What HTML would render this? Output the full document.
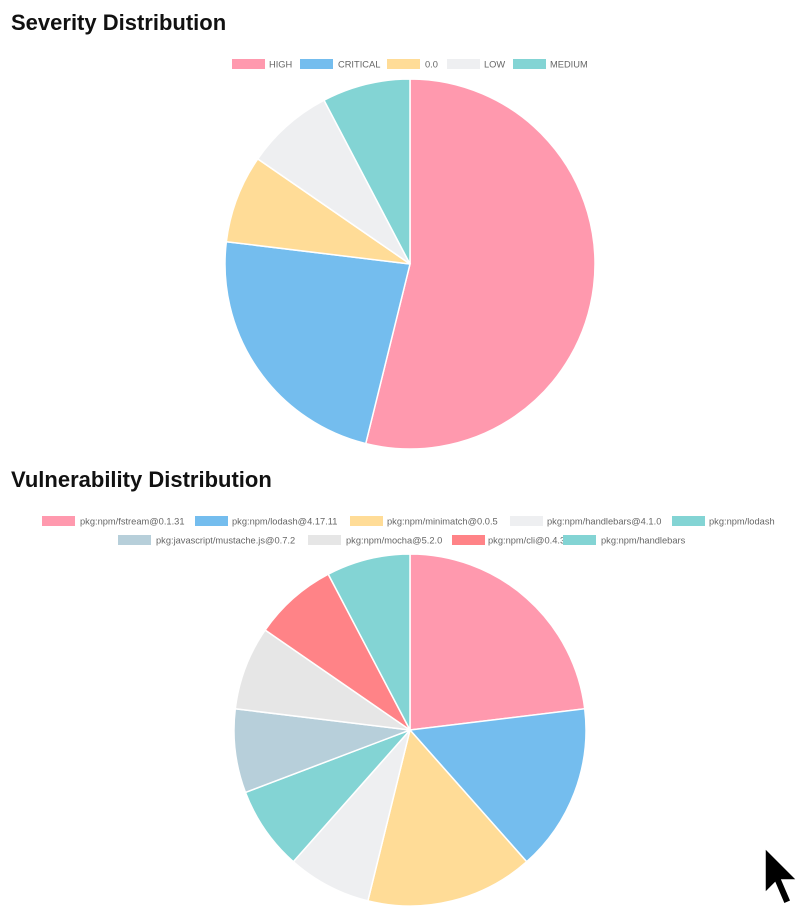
<!DOCTYPE html>
<html><head><meta charset="utf-8"><style>
body{margin:0;background:#fff;width:801px;height:914px;overflow:hidden;font-family:"Liberation Sans",Arial,sans-serif}
h2{position:absolute;left:11px;margin:0;font-size:22px;font-weight:bold;color:#111}
svg{position:absolute;left:0;top:0}
</style></head><body>
<h2 style="top:10px">Severity Distribution</h2>
<h2 style="top:467px">Vulnerability Distribution</h2>
<svg id="s" width="801" height="914"></svg>
<script>
const sevLabels=["HIGH","CRITICAL","0.0","LOW","MEDIUM"];
const sevValues=[7,3,1,1,1];
const sevColors=["#ff99ae","#74bdee","#ffdc97","#eeeff1","#83d4d4"];
const vulLabels=["pkg:npm/fstream@0.1.31","pkg:npm/lodash@4.17.11","pkg:npm/minimatch@0.0.5","pkg:npm/handlebars@4.1.0","pkg:npm/lodash","pkg:javascript/mustache.js@0.7.2","pkg:npm/mocha@5.2.0","pkg:npm/cli@0.4.3","pkg:npm/handlebars"];
const vulValues=[3,2,2,1,1,1,1,1,1];
const vulColors=["#ff99ae","#74bdee","#ffdc97","#eeeff1","#83d4d4","#b7cfda","#e6e6e6","#ff8387","#83d4d4"];
const svg=document.getElementById('s');const NS="http://www.w3.org/2000/svg";
function mk(t,a){const e=document.createElementNS(NS,t);for(const k in a)e.setAttribute(k,a[k]);svg.appendChild(e);return e;}
function pie(vals,cols,cx,cy,r,name){
  const tot=vals.reduce((a,b)=>a+b,0);let a0=0;
  vals.forEach((v,i)=>{const a1=a0+v/tot*2*Math.PI;
    const x0=cx+r*Math.sin(a0),y0=cy-r*Math.cos(a0),x1=cx+r*Math.sin(a1),y1=cy-r*Math.cos(a1);
    const p=mk('path',{d:`M${cx},${cy}L${x0},${y0}A${r},${r} 0 ${a1-a0>Math.PI?1:0} 1 ${x1},${y1}Z`,fill:cols[i],stroke:'#fff','stroke-width':1.5});
    
    
    a0=a1;});
}
function legend(labels,cols,rows,name){
  labels.forEach((l,i)=>{const [bx,tx,y]=rows[i];
    const b=mk('rect',{x:bx,y:y-5,width:33,height:10,fill:cols[i]});
    
    
    const t=mk('text',{x:tx,y:y+3.5,'font-size':9.3,fill:'#666'});t.textContent=l;
    
    
  });
}
pie(sevValues,sevColors,410,264,185,'severity');
legend(sevLabels,sevColors,[[232,269,64],[300,338,64],[387,425,64],[447,484,64],[513,550,64]],'severity');
pie(vulValues,vulColors,410,730,176,'vulnerability');
legend(vulLabels,vulColors,[[42,80,521],[195,232,521],[350,387,521],[510,547,521],[672,709,521],[118,156,540],[308,346,540],[452,488,540],[563,601,540]],'vulnerability');
const c=mk('path',{d:'M765,848 L765,893 L775,883 L784,904 L791,901 L782,880 L797,880 Z',fill:'#000',stroke:'#fff','stroke-width':1.5});


</script>
</body></html>
